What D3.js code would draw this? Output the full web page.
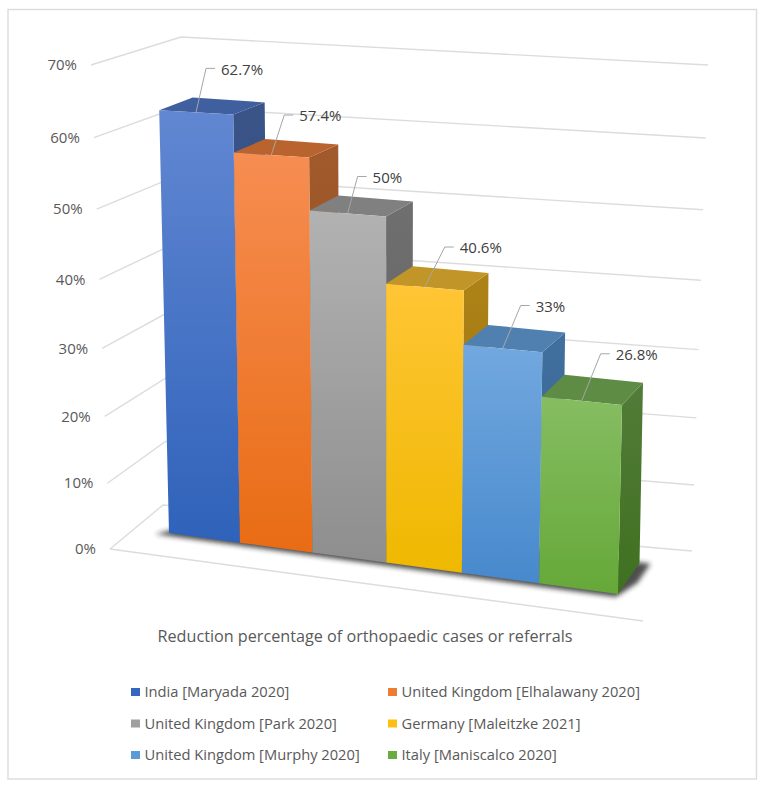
<!DOCTYPE html>
<html><head><meta charset="utf-8">
<script src="https://cdn.jsdelivr.net/npm/d3@7"></script>
<style>html,body{margin:0;padding:0;background:#fff}svg{display:block}text{font-family:"Open Sans",sans-serif}</style>
</head><body><div id="c"></div>
<script>
const categories = ["India [Maryada 2020]","United Kingdom [Elhalawany 2020]","United Kingdom [Park 2020]","Germany [Maleitzke 2021]","United Kingdom [Murphy 2020]","Italy [Maniscalco 2020]"];
const values = [62.7,57.4,50,40.6,33,26.8];
const labels = ["62.7%","57.4%","50%","40.6%","33%","26.8%"];
const tickValues = [0,10,20,30,40,50,60,70];
const axisTitle = "Reduction percentage of orthopaedic cases or referrals";
const frontColors = [["#6187d2","#2f62ba"],["#f68d52","#e96c14"],["#b2b2b2","#8e8e8e"],["#ffc535","#efb800"],["#72a8df","#4789cd"],["#86bd62","#65a838"]];
const topColors = ["#3f5f9f","#b9632f","#808080","#c29528","#5080b0","#5f8c45"];
const sideColors = [["#3a5488","#2c4a80"],["#a05a2c","#8f4c1e"],["#6f6f6f","#5f5f5f"],["#ad8217","#9a7410"],["#41709f","#33628f"],["#527c38","#3f7020"]];
const legendColors = ["#3566bd","#ed7d31","#a0a0a0","#fdc010","#5b9bd5","#6bab42"];

const W=764,H=787;
const svg=d3.select("#c").append("svg").attr("width",W).attr("height",H);
const defs=svg.append("defs");
defs.append("filter").attr("id","blur").attr("x","-10%").attr("y","-30%").attr("width","120%").attr("height","160%")
  .append("feGaussianBlur").attr("stdDeviation",2.6);

// perspective-warped scales
const warp=k=>t=>t/(1+k*(1-t));
const yBase=d3.scaleLinear().domain([0,70]).range([0,1]);
const wScale=v=>warp(0.06)(yBase(v));
const xBand=d3.scaleBand().domain(categories).range([0,1]);
const uOf=warp(0.066);
const lerp=(a,b,t)=>[a[0]+(b[0]-a[0])*t,a[1]+(b[1]-a[1])*t];
const tri=c=>(u,v,w)=>{
  const f=lerp(lerp(c.f0l,c.f0r,u),lerp(c.f1l,c.f1r,u),w);
  const b=lerp(lerp(c.b0l,c.b0r,u),lerp(c.b1l,c.b1r,u),w);
  return lerp(f,b,v);
};
const block=tri({f0l:[169,533],f0r:[618,594],f1l:[158,58],f1r:[629,82],
                 b0l:[199,507],b0r:[639.5,563],b1l:[192,47],b1r:[649,75]});
const line=d3.line();
const poly=p=>line(p)+"Z";

// walls and floor
const FL0=[110,549],FL1=[91,65],BL0=[163,505],BL1=[181,37],BR0=[692,551],BR1=[708,65],FR0=[643,621];
const grid=svg.append("g").attr("fill","none").attr("stroke","#dcdcdc").attr("stroke-width",1.4);
tickValues.forEach(v=>{
  const t=wScale(v);
  grid.append("path").attr("d",line([lerp(FL0,FL1,t),lerp(BL0,BL1,t),lerp(BR0,BR1,t)]));
});
grid.append("path").attr("d",line([FL0,FR0]));
svg.append("g").attr("font-size",15).attr("fill","#595959").attr("text-anchor","end")
 .selectAll("text").data(tickValues).join("text")
 .attr("x",v=>lerp(FL0,FL1,wScale(v))[0]-14)
 .attr("y",v=>lerp(FL0,FL1,wScale(v))[1]).attr("dy","0.35em").text(v=>v+"%");

// frame
svg.append("rect").attr("x",8).attr("y",9.5).attr("width",748.5).attr("height",769.5)
  .attr("fill","none").attr("stroke","#dcdcdc").attr("stroke-width",1.4);

// shadow
svg.append("path").attr("d",poly([block(-0.024,-0.1,0),block(1.0,-0.1,0),block(1.024,0.4,0),block(1.024,1.02,0),block(0.1,1,0)]))
  .attr("fill","#222").attr("opacity",0.8).attr("filter","url(#blur)");

// bars
const bars=svg.append("g");
const grad=(id,c)=>{
  const g=defs.append("linearGradient").attr("id",id).attr("x1",0).attr("y1",0).attr("x2",0).attr("y2",1);
  g.append("stop").attr("offset",0).attr("stop-color",c[0]);
  g.append("stop").attr("offset",1).attr("stop-color",c[1]);
};
categories.forEach((c,i)=>{
  const x0=xBand(c), x1=x0+xBand.bandwidth();
  const u0=uOf(x0),u1=uOf(x1),w=wScale(values[i]);
  grad("fg"+i,frontColors[i]); grad("sg"+i,sideColors[i]);
  bars.append("path").attr("d",poly([block(u1,0,0),block(u1,1,0),block(u1,1,w),block(u1,0,w)])).attr("fill",`url(#sg${i})`);
  bars.append("path").attr("d",poly([block(u0,0,w),block(u1,0,w),block(u1,1,w),block(u0,1,w)])).attr("fill",topColors[i]);
  bars.append("path").attr("d",poly([block(u0,0,0),block(u1,0,0),block(u1,0,w),block(u0,0,w)])).attr("fill",`url(#fg${i})`);
});

// data labels with leaders
const leaderDX=[10,13,10,20,18,19], leaderDY=[-44,-40,-37,-40,-43,-47];
const lab=svg.append("g");
categories.forEach((c,i)=>{
  const x0=xBand(c);
  const p=block(uOf(x0+xBand.bandwidth()/2),0,wScale(values[i]));
  const q=[p[0]+leaderDX[i],p[1]+leaderDY[i]], e=[q[0]+9,q[1]];
  lab.append("path").attr("d",line([p,q,e])).attr("fill","none").attr("stroke","#a6a6a6").attr("stroke-width",1);
  lab.append("text").attr("x",e[0]+6).attr("y",e[1]+1).attr("dy","0.35em").attr("font-size",15).attr("fill","#404040").text(labels[i]);
});

// title
svg.append("text").attr("x",365).attr("y",636).attr("dy","0.35em").attr("text-anchor","middle")
 .attr("font-size",16.2).attr("fill","#595959").text(axisTitle);

// legend
const legX=d3.scaleOrdinal().domain([0,1]).range([131,388]);
const legY=d3.scalePoint().domain([0,1,2]).range([692,755]);
const leg=svg.append("g");
categories.forEach((c,i)=>{
  const col=i%2,row=Math.floor(i/2);
  leg.append("rect").attr("x",legX(col)).attr("y",legY(row)-4).attr("width",9).attr("height",8).attr("fill",legendColors[i]);
  leg.append("text").attr("x",legX(col)+13.5).attr("y",legY(row)).attr("dy","0.35em").attr("font-size",14.7).attr("fill","#595959").text(c);
});
</script></body></html>
